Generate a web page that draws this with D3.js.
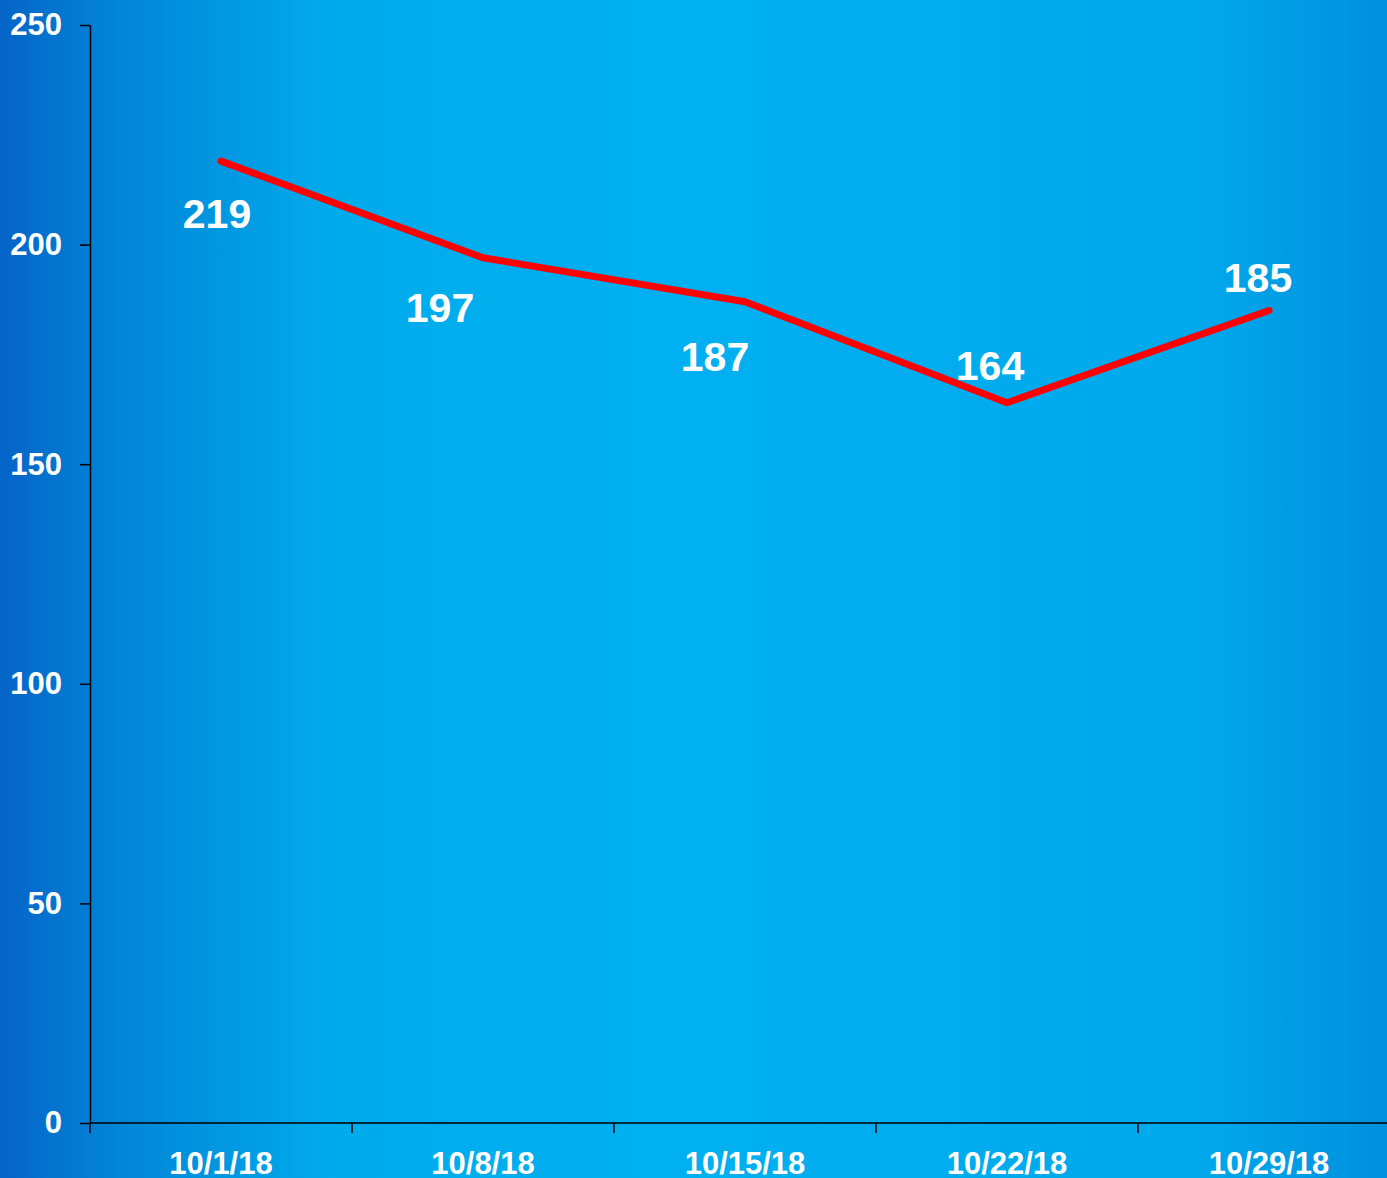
<!DOCTYPE html>
<html>
<head>
<meta charset="utf-8">
<script src="https://cdn.jsdelivr.net/npm/d3@7"></script>
<style>
  html, body { margin: 0; padding: 0; overflow: hidden; }
  svg { display: block; }
  text { font-family: "Liberation Sans", Arial, sans-serif; font-weight: bold; fill: #fff; }
</style>
</head>
<body>
<svg id="chart" width="1387" height="1178"></svg>
<script>
var weeks = ["10/1/18", "10/8/18", "10/15/18", "10/22/18", "10/29/18"];
var counts = [219, 197, 187, 164, 185];
var yTicks = [0, 50, 100, 150, 200, 250];
// where each value label sits relative to its point
var labelDx = [-4, -43, -30, -17, -11];
var labelDy = [52, 49, 55, -37, -33];

var width = 1387, height = 1178;
var plotLeft = 90, plotTop = 25, plotBottom = 1123;

var svg = d3.select("#chart");

// background
var defs = svg.append("defs");
var grad = defs.append("linearGradient")
    .attr("id", "bg")
    .attr("x1", "0%").attr("y1", "0%")
    .attr("x2", "100%").attr("y2", "0%");
grad.selectAll("stop")
    .data([
      {offset: "0%", color: "#0564c8"},
      {offset: "8%", color: "#0284d6"},
      {offset: "24%", color: "#00abec"},
      {offset: "50%", color: "#00b0f0"},
      {offset: "86%", color: "#00a9ec"},
      {offset: "100%", color: "#0090dd"}
    ])
  .enter().append("stop")
    .attr("offset", function(d) { return d.offset; })
    .attr("stop-color", function(d) { return d.color; });

svg.append("rect")
    .attr("width", width)
    .attr("height", height)
    .style("fill", "url(#bg)");

var x = d3.scaleBand()
    .domain(weeks)
    .range([plotLeft, plotLeft + 262 * weeks.length])
    .padding(0);

var y = d3.scaleLinear()
    .domain([0, 250])
    .range([plotBottom, plotTop]);

// y axis
var yAxis = svg.append("g")
    .attr("transform", "translate(" + plotLeft + ",0)")
    .call(d3.axisLeft(y).tickValues(yTicks).tickSize(10).tickSizeOuter(0).tickPadding(18));
yAxis.select(".domain").attr("stroke", "#000").attr("stroke-width", 1.5);
yAxis.selectAll(".tick line").attr("stroke", "#000").attr("stroke-width", 1.5);
yAxis.selectAll(".tick text")
    .attr("fill", "#fff")
    .style("font-size", "31px")
    .style("font-family", "Liberation Sans, Arial, sans-serif")
    .style("font-weight", "bold");

// x axis
var xAxis = svg.append("g").attr("class", "x-axis");
xAxis.append("line")
    .attr("x1", plotLeft).attr("x2", width)
    .attr("y1", plotBottom).attr("y2", plotBottom)
    .attr("stroke", "#000").attr("stroke-width", 1.5);
xAxis.selectAll(".xtick")
    .data(weeks)
  .enter().append("line")
    .attr("class", "xtick")
    .attr("x1", function(d) { return x(d); })
    .attr("x2", function(d) { return x(d); })
    .attr("y1", plotBottom).attr("y2", plotBottom + 10)
    .attr("stroke", "#000").attr("stroke-width", 1.5);
xAxis.selectAll(".xlabel")
    .data(weeks)
  .enter().append("text")
    .attr("class", "xlabel")
    .attr("x", function(d) { return x(d) + x.bandwidth() / 2; })
    .attr("y", plotBottom + 51)
    .attr("text-anchor", "middle")
    .style("font-size", "31px")
    .text(function(d) { return d; });

// line
var line = d3.line()
    .x(function(d, i) { return x(weeks[i]) + x.bandwidth() / 2; })
    .y(function(d) { return y(d); });

svg.append("path")
    .datum(counts)
    .attr("d", line)
    .attr("fill", "none")
    .attr("stroke", "#ff0000")
    .attr("stroke-width", 7)
    .attr("stroke-linecap", "round")
    .attr("stroke-linejoin", "round");

// value labels
svg.selectAll(".vlabel")
    .data(counts)
  .enter().append("text")
    .attr("class", "vlabel")
    .attr("x", function(d, i) { return x(weeks[i]) + x.bandwidth() / 2 + labelDx[i]; })
    .attr("y", function(d, i) { return y(d) + labelDy[i]; })
    .attr("dy", "0.36em")
    .attr("text-anchor", "middle")
    .style("font-size", "41px")
    .text(function(d) { return d; });
</script>
</body>
</html>
